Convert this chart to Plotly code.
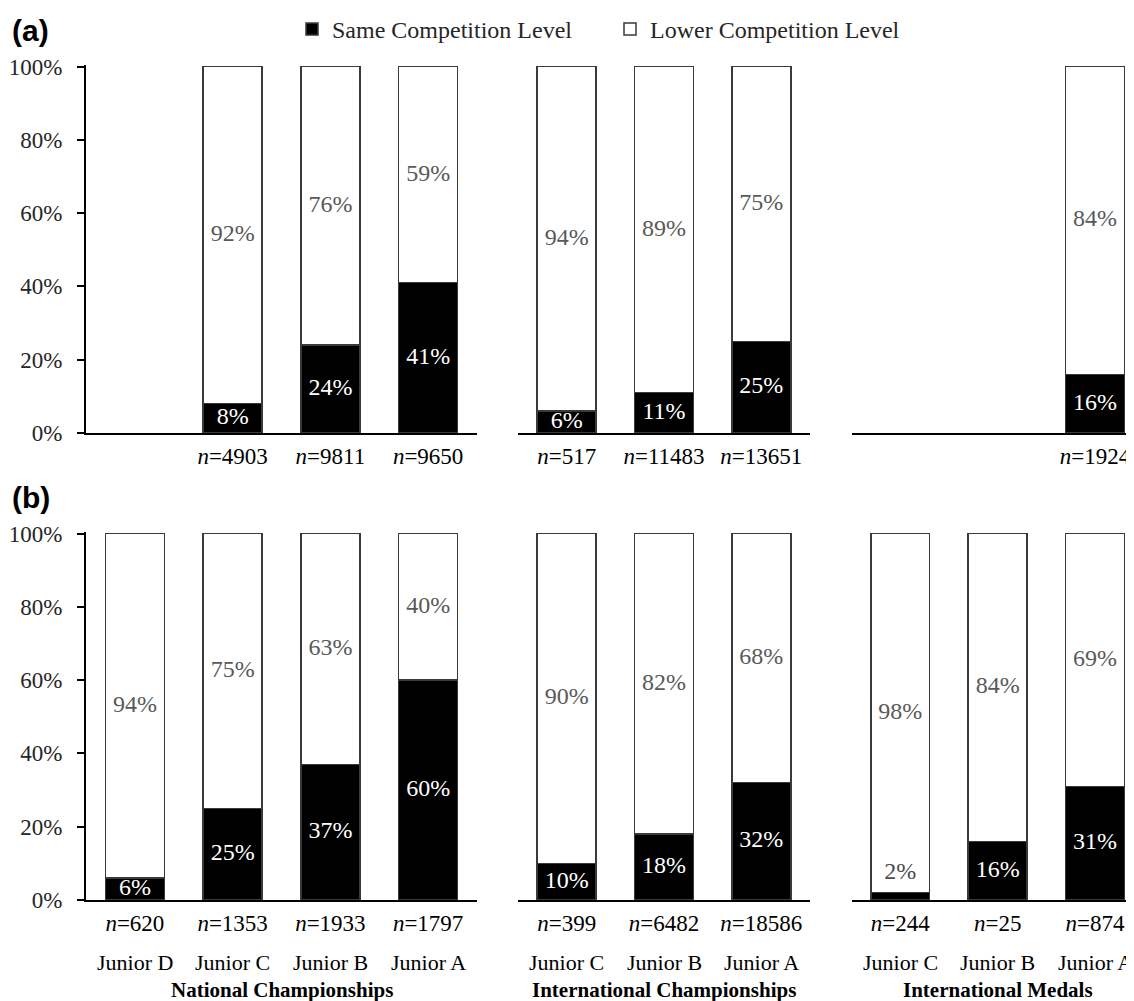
import plotly.graph_objects as go

# ---------------- data ----------------
panel_titles = ["National Championships", "International Championships", "International Medals"]
cats_national = ["Junior D", "Junior C", "Junior B", "Junior A"]
cats_intl = ["Junior C", "Junior B", "Junior A"]

# Row (a)
a_nat_same = [None, 8, 24, 41]
a_nat_lower = [None, 92, 76, 59]
a_nat_n = [None, 4903, 9811, 9650]

a_ic_same = [6, 11, 25]
a_ic_lower = [94, 89, 75]
a_ic_n = [517, 11483, 13651]

a_im_same = [None, None, 16]
a_im_lower = [None, None, 84]
a_im_n = [None, None, 1924]

# Row (b)
b_nat_same = [6, 25, 37, 60]
b_nat_lower = [94, 75, 63, 40]
b_nat_n = [620, 1353, 1933, 1797]

b_ic_same = [10, 18, 32]
b_ic_lower = [90, 82, 68]
b_ic_n = [399, 6482, 18586]

b_im_same = [2, 16, 31]
b_im_lower = [98, 84, 69]
b_im_n = [244, 25, 874]

y_ticks = [0, 20, 40, 60, 80, 100]

# ---------------- layout constants ----------------
OFF = 8  # page body margin
W, H = 1134 - OFF, 1001 - OFF
SERIF = "Liberation Serif, Times New Roman, serif"
SANS = "Liberation Sans, Arial, sans-serif"


def fx(px):
    return (px - OFF) / W


def fy(py):
    return 1 - (py - OFF) / H


x_domains = [[fx(86), fx(477)], [fx(518), fx(810)], [fx(851.6), 1.0]]
x_ranges = [[-0.5, 3.5], [-0.5, 2.5], [-0.5, 2.4]]
YTOP = 100.4
px_per = 366.5 / 100.0
row_domains = {
    "a": [fy(433), fy(433 - YTOP * px_per)],
    "b": [fy(900), fy(900 - YTOP * px_per)],
}

panels = [
    # (row, col, cats, same, lower, n)
    ("a", 0, cats_national, a_nat_same, a_nat_lower, a_nat_n),
    ("a", 1, cats_intl, a_ic_same, a_ic_lower, a_ic_n),
    ("a", 2, cats_intl, a_im_same, a_im_lower, a_im_n),
    ("b", 0, cats_national, b_nat_same, b_nat_lower, b_nat_n),
    ("b", 1, cats_intl, b_ic_same, b_ic_lower, b_ic_n),
    ("b", 2, cats_intl, b_im_same, b_im_lower, b_im_n),
]

fig = go.Figure()
layout_axes = {}
annotations = []

for i, (row, col, cats, same, lower, ns) in enumerate(panels):
    k = i + 1
    xa = "x" if k == 1 else f"x{k}"
    ya = "y" if k == 1 else f"y{k}"
    first = (i == 0)

    fig.add_trace(go.Bar(
        x=cats, y=same, xaxis=xa, yaxis=ya, name="Same Competition Level",
        marker=dict(color="black", line=dict(color="#3a3a3a", width=1.5)),
        width=0.605, legendgroup="same", showlegend=first, hoverinfo="skip",
    ))
    fig.add_trace(go.Bar(
        x=cats, y=lower, xaxis=xa, yaxis=ya, name="Lower Competition Level",
        marker=dict(color="white", line=dict(color="#3a3a3a", width=1.5)),
        width=0.605, legendgroup="lower", showlegend=first, hoverinfo="skip",
    ))

    # labels
    sx, sy, st, sc, sp = [], [], [], [], []
    lx, ly, lt = [], [], []
    for c, s, l in zip(cats, same, lower):
        if s is None:
            continue
        if s < 4:
            # too small to hold its label: label sits just above the black segment
            sx.append(c); sy.append(s + 2); st.append(f"{s}%"); sc.append("#4d4d4d"); sp.append("top center")
        else:
            sx.append(c); sy.append(s / 2); st.append(f"{s}%"); sc.append("white"); sp.append("middle center")
        lx.append(c); ly.append(s + l / 2); lt.append(f"{l}%")
    fig.add_trace(go.Scatter(
        x=sx, y=sy, text=st, mode="text", textposition=sp, xaxis=xa, yaxis=ya,
        textfont=dict(family=SERIF, size=24, color=sc), showlegend=False, hoverinfo="skip",
        cliponaxis=False,
    ))
    fig.add_trace(go.Scatter(
        x=lx, y=ly, text=lt, mode="text", textposition="middle center", xaxis=xa, yaxis=ya,
        textfont=dict(family=SERIF, size=24, color="#595959"), showlegend=False, hoverinfo="skip",
        cliponaxis=False,
    ))

    ticktext = ["" if n is None else f"<i>n</i>={n}" for n in ns]
    xkey = "xaxis" if k == 1 else f"xaxis{k}"
    ykey = "yaxis" if k == 1 else f"yaxis{k}"
    layout_axes[xkey] = dict(
        domain=x_domains[col], range=x_ranges[col], anchor=ya,
        type="category", categoryorder="array", categoryarray=cats,
        tickmode="array", tickvals=cats, ticktext=ticktext,
        showline=True, linecolor="black", linewidth=2, ticks="",
        showgrid=False, zeroline=False, fixedrange=True, automargin=False,
        tickfont=dict(family=SERIF, size=23, color="black"),
        ticklabelstandoff=1,
    )
    ydict = dict(
        domain=row_domains[row], range=[0, YTOP], anchor=xa,
        showgrid=False, zeroline=False, fixedrange=True, automargin=False,
    )
    if col == 0:
        ydict.update(
            showline=True, linecolor="black", linewidth=2,
            ticks="outside", ticklen=7, tickwidth=2, tickcolor="black",
            tickmode="array", tickvals=y_ticks, ticktext=[f"{v}%" for v in y_ticks],
            tickfont=dict(family=SERIF, size=23, color="#262626"),
            ticklabelstandoff=10,
        )
    else:
        ydict.update(visible=False)
    layout_axes[ykey] = ydict

    if row == "b":
        for c in cats:
            annotations.append(dict(
                x=c, y=0, xref=xa, yref=ya, text=c, showarrow=False,
                yanchor="middle", yshift=-62.5,
                font=dict(family=SERIF, size=22, color="black"),
            ))
        annotations.append(dict(
            x=(len(cats) - 1) / 2, y=0, xref=xa, yref=ya, text=f"<b>{panel_titles[col]}</b>",
            showarrow=False, yanchor="middle", yshift=-89.5,
            font=dict(family=SERIF, size=21, color="black"),
        ))

annotations.append(dict(x=fx(10), y=fy(31), xref="paper", yref="paper", text="<b>(a)</b>",
                        showarrow=False, xanchor="left", yanchor="middle",
                        font=dict(family=SANS, size=30, color="black")))
annotations.append(dict(x=fx(10), y=fy(497.5), xref="paper", yref="paper", text="<b>(b)</b>",
                        showarrow=False, xanchor="left", yanchor="middle",
                        font=dict(family=SANS, size=30, color="black")))

fig.update_layout(
    width=W, height=H, barmode="stack",
    margin=dict(l=0, r=0, t=0, b=0, autoexpand=False),
    paper_bgcolor="white", plot_bgcolor="white",
    showlegend=True,
    legend=dict(orientation="h", x=fx(312 - 20), y=fy(29.5), xanchor="left", yanchor="middle",
                font=dict(family=SERIF, size=24, color="#262626"), entrywidth=273,
                bgcolor="rgba(0,0,0,0)", traceorder="normal"),
    annotations=annotations,
    **layout_axes,
)

fig.write_html("out.html")
